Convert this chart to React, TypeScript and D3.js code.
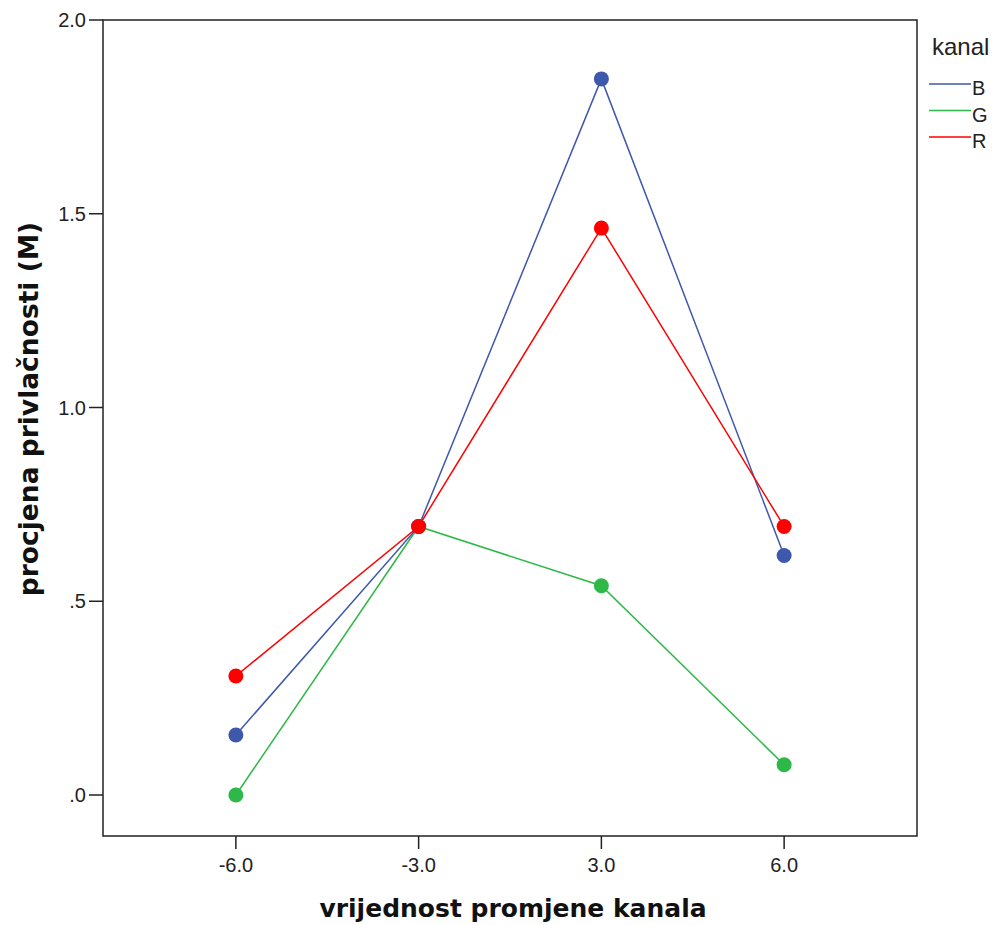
import React from "react";
import * as d3 from "d3";

const categories = ["-6.0", "-3.0", "3.0", "6.0"];
const seriesNames = ["B", "G", "R"];
const valuesB = [0.155, 0.693, 1.848, 0.618];
const valuesG = [0.0, 0.693, 0.54, 0.078];
const valuesR = [0.307, 0.693, 1.463, 0.693];
const yTicks = [0, 0.5, 1.0, 1.5, 2.0];
const yTickLabels = [".0", ".5", "1.0", "1.5", "2.0"];

const colors: Record<string, string> = { B: "#3e58ac", G: "#2eb848", R: "#ff0000" };

export default function App() {
  const W = 995, H = 925;
  const left = 103, right = 917, top = 20, bottom = 836;
  const x = d3.scalePoint<string>().domain(categories).range([left, right]).padding(0.727);
  const y = d3.scaleLinear().domain([0, 2]).range([795, 20]);
  const data: Record<string, number[]> = { B: valuesB, G: valuesG, R: valuesR };
  const line = d3.line<[string, number]>().x(d => x(d[0])!).y(d => y(d[1]));
  const drawOrder = ["G", "B", "R"];
  const font = "'Liberation Sans', Arial, sans-serif";
  const titleFont = "'DejaVu Sans', Verdana, sans-serif";
  return (
    <svg width={W} height={H} style={{ position: "absolute", left: 0, top: 0, background: "#fff" }} fontFamily={font}>
      <rect x={left} y={top} width={right - left} height={bottom - top} fill="none" stroke="#222" strokeWidth={1.5} />
      {yTicks.map((t, i) => (
        <g key={i}>
          <line x1={89} x2={left} y1={y(t)} y2={y(t)} stroke="#222" strokeWidth={1.5} />
          <text x={86} y={y(t)} dy="0.36em" textAnchor="end" fontSize={20} fill="#222">{yTickLabels[i]}</text>
        </g>
      ))}
      {categories.map(c => (
        <g key={c}>
          <line x1={x(c)} x2={x(c)} y1={bottom} y2={849} stroke="#222" strokeWidth={1.5} />
          <text x={x(c)} y={872} textAnchor="middle" fontSize={20} fill="#222">{c}</text>
        </g>
      ))}
      {drawOrder.map(s => (
        <g key={s}>
          <path d={line(categories.map((c, i) => [c, data[s][i]] as [string, number]))!} fill="none" stroke={colors[s]} strokeWidth={1.5} />
        </g>
      ))}
      {drawOrder.map(s => (
        <g key={s + "p"}>
          {categories.map((c, i) => (
            <circle key={c} cx={x(c)} cy={y(data[s][i])} r={7.5} fill={colors[s]} />
          ))}
        </g>
      ))}
      <text x={513} y={917} textAnchor="middle" fontSize={25} fontWeight="bold" fill="#111" fontFamily={titleFont}>vrijednost promjene kanala</text>
      <text transform={`translate(38,409) rotate(-90)`} textAnchor="middle" fontSize={26.5} fontWeight="bold" fill="#111" fontFamily={titleFont}>procjena privlačnosti (M)</text>
      <text x={932} y={55} fontSize={24} fill="#222">kanal</text>
      {seriesNames.map((s, i) => (
        <g key={s}>
          <line x1={929} x2={971} y1={84 + i * 26.5} y2={84 + i * 26.5} stroke={colors[s]} strokeWidth={1.5} />
          <text x={972} y={95 + i * 26.5} fontSize={20} fill="#222">{s}</text>
        </g>
      ))}
    </svg>
  );
}
